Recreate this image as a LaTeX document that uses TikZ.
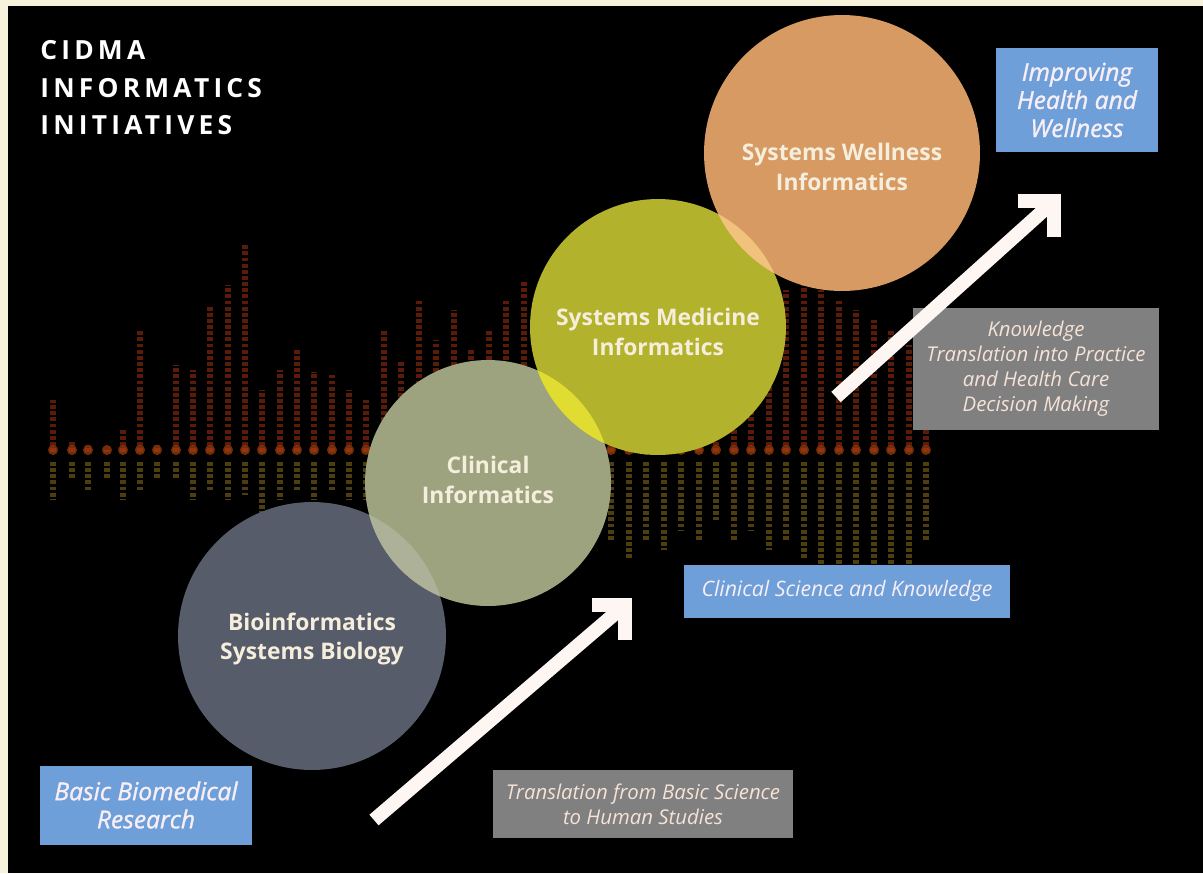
\documentclass[tikz,border=0pt]{standalone}
\usepackage{fontspec}
\setmainfont{Open Sans}
\newfontfamily\titlefont[LetterSpace=16]{Open Sans}
\newfontfamily\semifont[FakeBold=1.3]{Open Sans}
\usetikzlibrary{positioning,calc}

\definecolor{cream}{HTML}{F6F2DC}
\definecolor{bioC}{HTML}{565C69}
\definecolor{clinC}{HTML}{9DA37F}
\definecolor{medC}{HTML}{B2B22C}
\definecolor{wellC}{HTML}{D69A62}
\definecolor{bioClin}{HTML}{ACB198}
\definecolor{clinMed}{HTML}{E0DC32}
\definecolor{medWell}{HTML}{F0C27C}
\definecolor{circTxt}{HTML}{F6EEDC}
\definecolor{boxBlue}{HTML}{6E9FD8}
\definecolor{boxTxt}{HTML}{F8EEF6}
\definecolor{boxGrey}{HTML}{808080}
\definecolor{greyTxt}{HTML}{F6E2D6}
\definecolor{arrowWhite}{HTML}{FDF6F2}
\definecolor{barHi}{HTML}{5A1C08}
\definecolor{barLo}{HTML}{4C3E0E}
\definecolor{barDot}{HTML}{A8400E}

\begin{document}
\begin{tikzpicture}[x=0.02cm, y=-0.02cm,
        circ/.style={circle, inner sep=0pt},
        circtext/.style={text=circTxt, font=\bfseries\fontsize{13}{17}\selectfont, align=center},
        bluebox/.style={rectangle, fill=boxBlue, text=boxTxt, align=center, inner sep=0pt, font=\semifont\itshape\fontsize{14}{16}\selectfont},
        greybox/.style={rectangle, fill=boxGrey, text=greyTxt, align=center, inner sep=0pt, font=\itshape\fontsize{11.6}{14.2}\selectfont},
        bigarrow/.style={draw=arrowWhite, line width=0.28cm, line join=miter},
        specbar/.style={draw=barHi, line width=3.4pt, dash pattern=on 2.2pt off 1.3pt},
        specbarlow/.style={draw=barLo, line width=3.4pt, dash pattern=on 2.2pt off 1.3pt}]

    % page and dark background
    \fill[cream] (0,0) rectangle (1203,873);
    \fill[black] (8,6) rectangle (1203,873);
    \useasboundingbox (0,0) rectangle (1203,873);

    % faint spectrum columns behind the circles
    \foreach \x/\t/\b in {53/400/500, 72/440/480, 88/445/490, 107/450/480, 123/430/500,
            140/330/490, 157/445/480, 176/365/480, 193/370/500, 210/305/490, 228/285/500,
            245/245/495, 262/390/520, 280/370/500, 297/350/490, 314/372/500, 332/375/490,
            349/390/500, 366/400/500, 384/330/500, 401/360/510, 419/300/500, 436/340/510,
            454/310/500, 471/350/520, 489/330/500, 506/300/510, 524/280/500, 541/300/520,
            559/330/510, 576/360/520, 594/340/530, 611/380/540, 629/400/560, 646/420/540,
            664/390/550, 681/410/530, 699/380/540, 716/350/520, 734/320/540, 751/310/530,
            769/300/550, 786/290/540, 804/285/560, 821/290/590, 839/300/600, 856/310/580,
            874/320/600, 891/330/570, 909/345/590, 926/360/540} {
        \draw[specbar] (\x,452) -- (\x,\t);
        \draw[specbarlow] (\x,462) -- (\x,\b);
        \fill[barDot, opacity=0.7] (\x,450) circle[radius=5];
    }

    % circles
    \node[circ, fill=bioC, minimum size=5.36cm] (bio) at (312,636) {};
    \node[circ, fill=clinC, minimum size=4.92cm] (clin) at (488,483) {};
    \node[circ, fill=medC, minimum size=5.12cm] (med) at (658,327) {};
    \node[circ, fill=wellC, minimum size=5.52cm] (well) at (842,153) {};

    % overlaps
    \begin{scope}
        \clip (bio.center) circle[radius=134];
        \fill[bioClin] (clin.center) circle[radius=123];
    \end{scope}
    \begin{scope}
        \clip (clin.center) circle[radius=123];
        \fill[clinMed] (med.center) circle[radius=128];
    \end{scope}
    \begin{scope}
        \clip (med.center) circle[radius=128];
        \fill[medWell] (well.center) circle[radius=138];
    \end{scope}

    \node[circtext] (bioT) at ($(bio)+(0,3)$) {Bioinformatics\\Systems Biology};
    \node[circtext] (clinT) at ($(clin)+(0,-3)$) {Clinical\\Informatics};
    \node[circtext] (medT) at ($(med)+(0,5)$) {Systems Medicine\\Informatics};
    \node[circtext] (wellT) at ($(well)+(0,14)$) {Systems Wellness\\Informatics};

    % title
    \node[anchor=north west, inner sep=0pt, align=left, text=white,
        font=\titlefont\bfseries\fontsize{15}{21.5}\selectfont] (title) at (40,40)
        {CIDMA\\INFORMATICS\\INITIATIVES};

    % boxes
    \node[bluebox, minimum width=3.24cm, minimum height=2.1cm] (improve) at (1077,100) {Improving\\Health and\\Wellness};
    \node[bluebox, minimum width=4.24cm, minimum height=1.58cm] (basic) at (146,805) {Basic Biomedical\\Research};
    \node[bluebox, minimum width=6.54cm, minimum height=1.06cm,
        font=\itshape\fontsize{12.1}{14}\selectfont] (clinsci) at (847,591) {Clinical Science and Knowledge};
    \node[greybox, minimum width=6.02cm, minimum height=1.36cm] (transl) at (643,804) {Translation from Basic Science\\to Human Studies};
    \node[greybox, minimum width=4.92cm, minimum height=2.44cm] (knowl) at (1036,369) {Knowledge\\Translation into Practice\\and Health Care\\Decision Making};

    % arrows
    \coordinate (a1s) at (374,820);
    \coordinate (a1e) at (625,605);
    \draw[bigarrow] (a1s) -- (a1e);
    \draw[bigarrow] ($(a1e)+(-33,0)$) -- (a1e) -- ($(a1e)+(0,35)$);

    \coordinate (a2s) at (836,397);
    \coordinate (a2e) at (1054,201);
    \draw[bigarrow] (a2s) -- (a2e);
    \draw[bigarrow] ($(a2e)+(-36,0)$) -- (a2e) -- ($(a2e)+(0,36)$);
\end{tikzpicture}
\end{document}
